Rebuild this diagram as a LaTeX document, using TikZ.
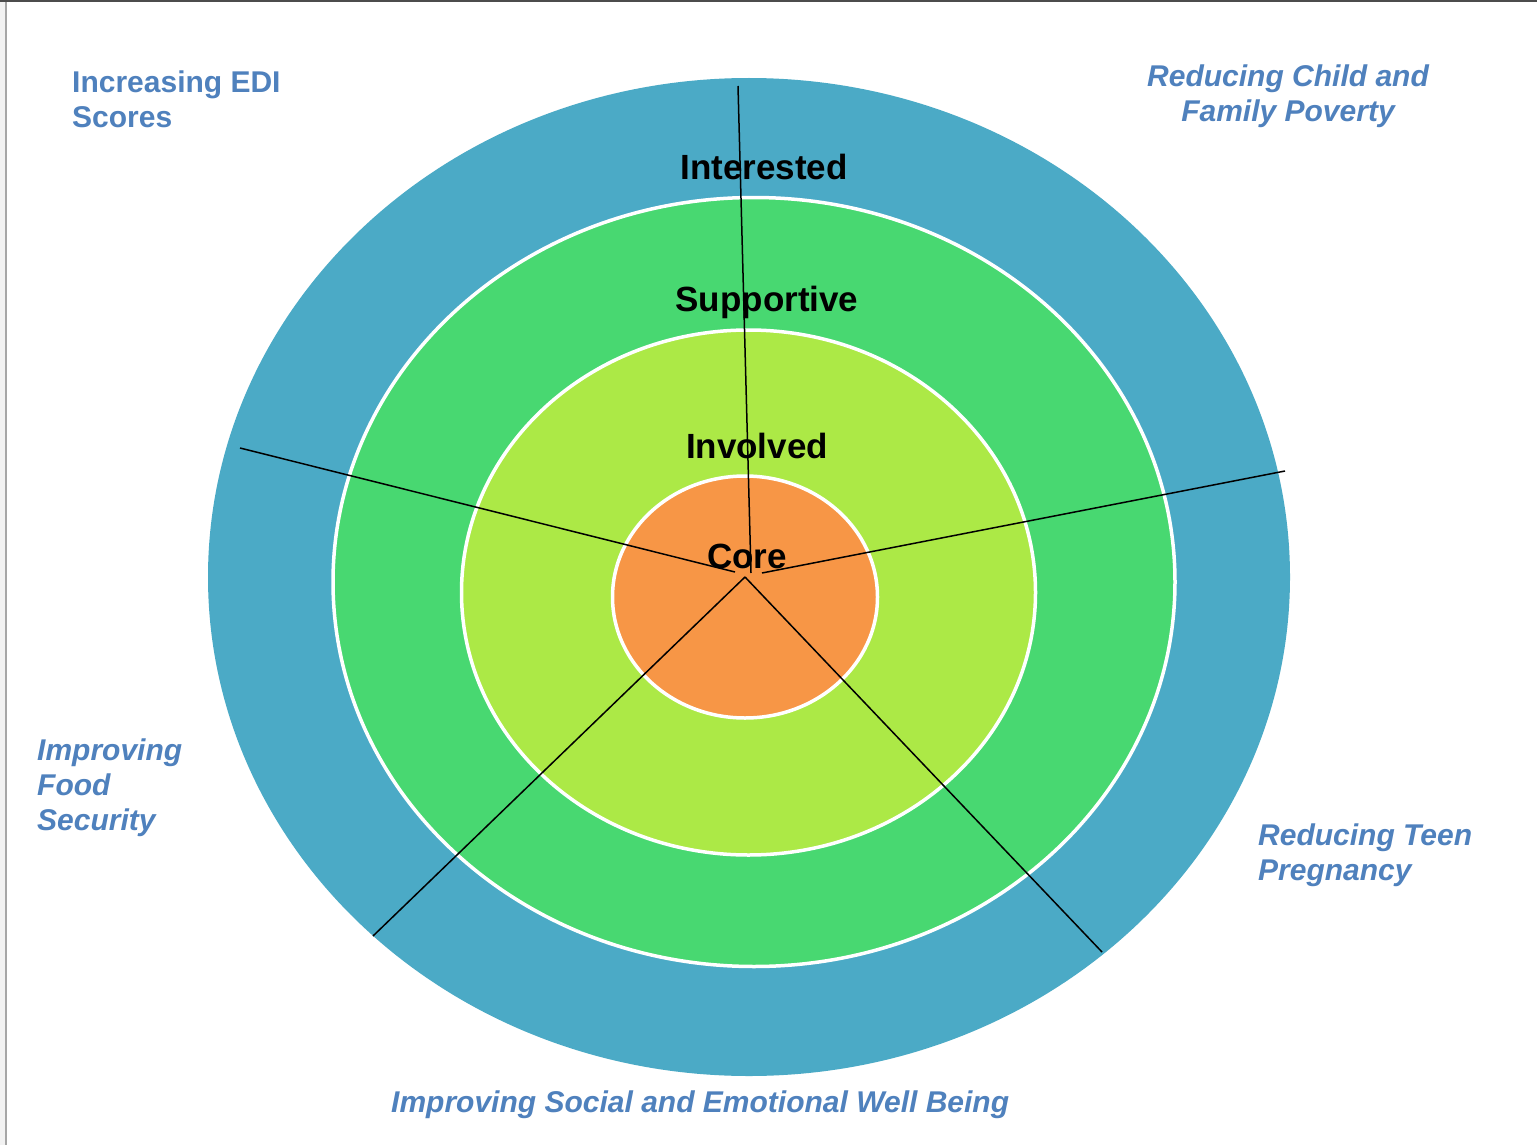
\documentclass[tikz,border=0pt]{standalone}
\usepackage{fontspec}
\setmainfont{Liberation Sans}
\usetikzlibrary{shapes.geometric}
\definecolor{ringteal}{HTML}{4BAAC6}
\definecolor{ringgreen}{HTML}{48D871}
\definecolor{ringlime}{HTML}{ACE946}
\definecolor{ringorange}{HTML}{F79646}
\definecolor{labelblue}{HTML}{4F81BD}
\begin{document}
\begin{tikzpicture}[x=1pt,y=-1pt,
  ring/.style={ellipse, inner sep=0pt, outer sep=0pt},
  whiteedge/.style={draw=white, line width=3.5pt},
  spoke/.style={draw=black, line width=1.5pt},
  level/.style={font=\fontsize{35}{40}\selectfont\bfseries, text=black, inner sep=0pt, anchor=base},
  goal/.style={font=\fontsize{30}{35}\selectfont\bfseries, text=labelblue, inner sep=0pt},
  goalit/.style={goal, font=\fontsize{30}{35}\selectfont\bfseries\itshape}]
\useasboundingbox (0,0) rectangle (1537,1145);
\fill[white] (0,0) rectangle (1537,1145);
\fill[black!5] (0,0) rectangle (5,1145);
\draw[black!35, line width=2pt] (6,0) -- (6,1145);
\draw[black!70, line width=2.5pt] (0,1) -- (1537,1);

% rings
\node[ring, fill=ringteal, minimum width=1082pt, minimum height=998pt] (outer) at (749,577) {};
\node[ring, fill=ringgreen, whiteedge, minimum width=842pt, minimum height=769pt] (green) at (754,582) {};
\node[ring, fill=ringlime, whiteedge, minimum width=574pt, minimum height=525pt] (lime) at (748.5,592.5) {};
\node[ring, fill=ringorange, whiteedge, minimum width=265pt, minimum height=242pt] (core) at (745,597) {};

% spoke ends
\coordinate (topend) at (738,86);
\coordinate (leftend) at (240,448);
\coordinate (rightend) at (1285,471);
\coordinate (llend) at (373,936);
\coordinate (lrend) at (1102,952);
\coordinate (ctop) at (751,573);
\coordinate (cleft) at (735,572);
\coordinate (cright) at (762,573);
\coordinate (cbottom) at (745,577);

% level labels
\node[level] (interested) at (764,179.5) {Interested};
\node[level] (supportive) at (767,311.5) {Supportive};
\node[level] (involved) at (757,458.5) {Involved};
\node[level] (corelabel) at (747,568.5) {Core};

% spokes
\draw[spoke] (topend) -- (ctop);
\draw[spoke] (leftend) -- (cleft);
\draw[spoke] (rightend) -- (cright);
\draw[spoke] (llend) -- (cbottom);
\draw[spoke] (cbottom) -- (lrend);

% goal labels (base anchor = baseline of last line)
\node[goal, anchor=base west, align=left] (edi) at (72,128) {Increasing EDI\\Scores};
\node[goalit, anchor=base, align=center] (poverty) at (1288,122) {Reducing Child and\\Family Poverty};
\node[goalit, anchor=base west, align=left] (food) at (37,830) {Improving\\Food\\Security};
\node[goalit, anchor=base west, align=left] (teen) at (1258,880) {Reducing Teen\\Pregnancy};
\node[goalit, anchor=base west] (social) at (391,1112) {Improving Social and Emotional Well Being};
\end{tikzpicture}
\end{document}
